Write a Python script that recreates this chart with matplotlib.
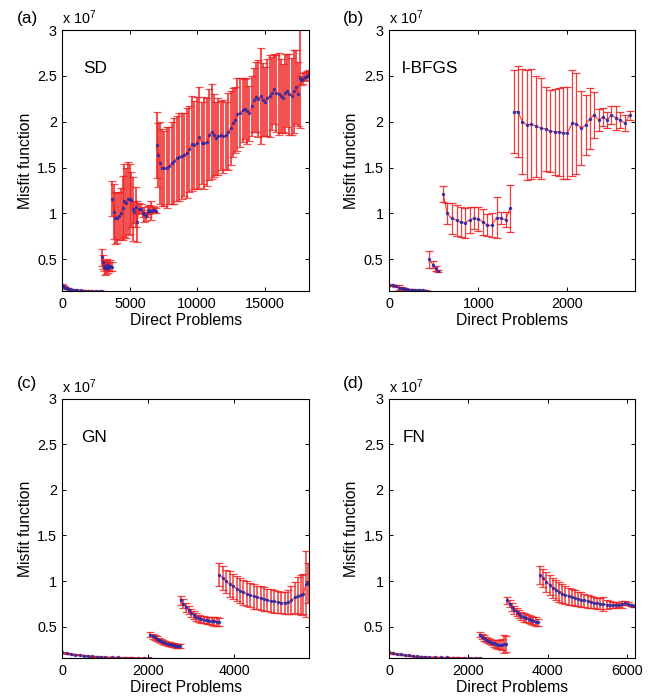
import matplotlib
matplotlib.use('Agg')
import matplotlib.pyplot as plt

plt.rcParams['font.family'] = ['Liberation Sans', 'DejaVu Sans']
plt.rcParams['mathtext.fontset'] = 'custom'
plt.rcParams['mathtext.rm'] = 'Liberation Sans'
plt.rcParams['mathtext.it'] = 'Liberation Sans'

# ---------------- data (misfit in units of 1e7) ----------------
# (a) SD
sd_x = [
    [0, 60, 120, 200, 300, 420, 560, 720, 900, 1100, 1350, 1600, 1900, 2200, 2500, 2800, 2900],
    [2920, 3000, 3080, 3160, 3240, 3320, 3400, 3480, 3560, 3640],
    [3700, 3830, 3930, 4070, 4220, 4320, 4470, 4590, 4720, 4870, 5010, 5110, 5210, 5340,
     5460, 5560, 5680, 5830, 5960, 6080, 6200, 6330, 6450, 6570, 6700, 6820, 6950],
    [7000, 7120, 7240, 7370, 7540, 7740, 7940, 8110, 8280, 8480, 8680, 8850, 9030, 9220,
     9420, 9600, 9770, 9970, 10170, 10340, 10510, 10710, 10910, 11080, 11260, 11400, 11580,
     11750, 11950, 12150, 12320, 12490, 12640, 12820, 12990, 13190, 13390, 13560, 13730,
     13880, 14050, 14230, 14380, 14550, 14720, 14870, 15040, 15220, 15370, 15540, 15710,
     15860, 16040, 16210, 16360, 16530, 16700, 16850, 17030, 17200, 17350, 17450],
    [17600, 17700, 17850, 18000, 18150, 18280],
]
sd_mean = [
    [0.215, 0.205, 0.197, 0.19, 0.183, 0.177, 0.172, 0.168, 0.165, 0.162, 0.160, 0.159,
     0.158, 0.157, 0.157, 0.156, 0.156],
    [0.52, 0.47, 0.43, 0.40, 0.41, 0.44, 0.41, 0.42, 0.43, 0.42],
    [1.16, 1.02, 0.95, 0.95, 0.97, 1.00, 1.06, 1.14, 1.11, 1.16, 1.16, 1.15, 1.05, 1.02,
     1.07, 0.91, 1.05, 1.05, 1.00, 0.99, 0.97, 1.02, 1.04, 1.03, 1.04, 1.04, 1.03],
    [1.75, 1.64, 1.55, 1.50, 1.49, 1.50, 1.52, 1.55, 1.57, 1.60, 1.62, 1.63, 1.64, 1.66,
     1.70, 1.76, 1.75, 1.77, 1.83, 1.77, 1.77, 1.78, 1.86, 1.89, 1.85, 1.82, 1.84, 1.85,
     1.84, 1.85, 1.89, 1.93, 1.99, 2.02, 2.08, 2.10, 2.13, 2.14, 2.12, 2.09, 2.17, 2.24,
     2.27, 2.25, 2.28, 2.24, 2.22, 2.26, 2.28, 2.31, 2.36, 2.31, 2.30, 2.28, 2.26, 2.31,
     2.34, 2.30, 2.28, 2.33, 2.38, 2.30],
    [2.48, 2.45, 2.47, 2.49, 2.50, 2.52],
]
sd_err = [
    [0.012, 0.01, 0.008, 0.007, 0.006, 0.005, 0.004, 0.003, 0.003, 0.002, 0.002, 0.002,
     0.002, 0.002, 0.002, 0.002, 0.002],
    [0.09, 0.08, 0.06, 0.07, 0.07, 0.06, 0.06, 0.05, 0.06, 0.05],
    [0.19, 0.30, 0.28, 0.27, 0.26, 0.28, 0.35, 0.40, 0.38, 0.40, 0.38, 0.30, 0.35, 0.12,
     0.22, 0.22, 0.06, 0.05, 0.04, 0.08, 0.05, 0.06, 0.05, 0.10, 0.04, 0.03, 0.03],
    [0.36, 0.35, 0.45, 0.42, 0.41, 0.44, 0.42, 0.45, 0.47, 0.46, 0.48, 0.47, 0.45, 0.49,
     0.47, 0.52, 0.48, 0.50, 0.55, 0.45, 0.50, 0.48, 0.50, 0.52, 0.45, 0.40, 0.42, 0.38,
     0.40, 0.37, 0.42, 0.40, 0.38, 0.36, 0.40, 0.38, 0.35, 0.33, 0.36, 0.30, 0.33, 0.35,
     0.38, 0.42, 0.52, 0.40, 0.38, 0.42, 0.45, 0.40, 0.38, 0.42, 0.45, 0.40, 0.37, 0.43,
     0.40, 0.44, 0.42, 0.45, 0.40, 0.35],
    [0.55, 0.05, 0.06, 0.05, 0.05, 0.04],
]

# (b) l-BFGS
lb_x = [
    [0, 40, 80, 110, 140, 170, 200, 230, 260, 290, 320, 350, 380, 410],
    [450, 490, 520, 550],
    [607, 652, 700, 756, 805, 850, 906, 951, 1000, 1049, 1101, 1150, 1206, 1255, 1307, 1356],
    [1401, 1446, 1495, 1547, 1596, 1652, 1708, 1757, 1809, 1858, 1906, 1951, 1996, 2056,
     2101, 2157, 2206, 2251, 2300, 2356, 2401, 2446, 2495, 2543, 2588, 2644, 2700],
]
lb_mean = [
    [0.22, 0.215, 0.205, 0.19, 0.183, 0.178, 0.173, 0.17, 0.167, 0.165, 0.163, 0.161, 0.16, 0.159],
    [0.50, 0.44, 0.40, 0.37],
    [1.21, 1.00, 0.945, 0.925, 0.905, 0.895, 0.93, 0.945, 0.94, 0.91, 0.87, 0.87, 0.955,
     0.95, 0.93, 1.055],
    [2.11, 2.11, 2.00, 1.965, 1.975, 1.95, 1.93, 1.92, 1.90, 1.89, 1.89, 1.88, 1.875, 1.985,
     1.98, 1.93, 1.965, 2.035, 2.07, 2.02, 2.05, 2.02, 2.07, 2.045, 2.02, 1.985, 2.07],
]
lb_err = [
    [0.008, 0.007, 0.012, 0.025, 0.01, 0.008, 0.007, 0.006, 0.005, 0.004, 0.004, 0.003, 0.003, 0.003],
    [0.09, 0.04, 0.03, 0.01],
    [0.09, 0.11, 0.165, 0.17, 0.16, 0.16, 0.14, 0.12, 0.13, 0.14, 0.12, 0.13, 0.22, 0.07,
     0.08, 0.26],
    [0.45, 0.50, 0.57, 0.60, 0.60, 0.55, 0.55, 0.46, 0.45, 0.47, 0.48, 0.50, 0.50, 0.58,
     0.55, 0.40, 0.33, 0.33, 0.25, 0.12, 0.10, 0.09, 0.10, 0.13, 0.09, 0.09, 0.05],
]

# (c) GN
gn_x = [
    [0, 100, 200, 300, 400, 500, 600, 700, 800, 900, 1000, 1150, 1300, 1450, 1600, 1750, 1900, 2050],
    [2050, 2100, 2150, 2200, 2250, 2300, 2350, 2400, 2450, 2500, 2550, 2600, 2650, 2700, 2740],
    [2760, 2820, 2880, 2940, 3000, 3060, 3120, 3180, 3240, 3300, 3360, 3420, 3480, 3540, 3600, 3650],
    [3660, 3740, 3820, 3900, 3980, 4060, 4140, 4220, 4300, 4380, 4460, 4540, 4620, 4700,
     4780, 4860, 4940, 5020, 5100, 5180, 5260, 5340, 5420, 5500, 5560, 5620, 5680, 5720],
]
gn_mean = [
    [0.215, 0.207, 0.199, 0.192, 0.186, 0.181, 0.176, 0.172, 0.169, 0.166, 0.164, 0.162,
     0.16, 0.159, 0.158, 0.157, 0.157, 0.156],
    [0.41, 0.395, 0.38, 0.365, 0.352, 0.34, 0.33, 0.32, 0.312, 0.305, 0.30, 0.295, 0.29, 0.288, 0.285],
    [0.79, 0.75, 0.71, 0.68, 0.65, 0.625, 0.605, 0.59, 0.58, 0.575, 0.57, 0.565, 0.56, 0.558, 0.555, 0.55],
    [1.07, 1.03, 0.995, 0.965, 0.94, 0.915, 0.893, 0.875, 0.86, 0.845, 0.832, 0.82, 0.81,
     0.80, 0.79, 0.782, 0.775, 0.768, 0.763, 0.762, 0.77, 0.79, 0.82, 0.84, 0.85, 0.86, 0.97, 0.975],
]
gn_err = [
    [0.004, 0.004, 0.003, 0.003, 0.003, 0.003, 0.003, 0.003, 0.002, 0.002, 0.002, 0.002,
     0.002, 0.002, 0.002, 0.002, 0.002, 0.002],
    [0.03, 0.028, 0.027, 0.026, 0.025, 0.025, 0.024, 0.024, 0.023, 0.023, 0.023, 0.022, 0.022, 0.022, 0.02],
    [0.05, 0.05, 0.05, 0.045, 0.045, 0.045, 0.045, 0.04, 0.04, 0.04, 0.04, 0.04, 0.045, 0.05, 0.045, 0.04],
    [0.13, 0.13, 0.13, 0.14, 0.14, 0.14, 0.14, 0.14, 0.14, 0.135, 0.135, 0.13, 0.13, 0.13,
     0.125, 0.125, 0.125, 0.12, 0.12, 0.12, 0.13, 0.15, 0.17, 0.20, 0.22, 0.22, 0.36, 0.22],
]

# (d) FN
fn_x = [
    [0, 100, 200, 300, 400, 500, 600, 700, 800, 900, 1000, 1150, 1300, 1450, 1600, 1750,
     1900, 2050, 2200, 2290],
    [2300, 2350, 2400, 2450, 2500, 2550, 2600, 2650, 2700, 2750, 2800, 2850, 2900, 2940],
    [2980, 3040, 3100, 3160, 3220, 3280, 3340, 3400, 3460, 3520, 3580, 3640, 3700, 3760],
    [3810, 3890, 3970, 4050, 4130, 4210, 4290, 4370, 4450, 4530, 4610, 4690, 4770, 4850,
     4930, 5010, 5090, 5170, 5250, 5330, 5410, 5490, 5570, 5650, 5730, 5810, 5890, 5960,
     6030, 6100, 6170],
]
fn_mean = [
    [0.215, 0.207, 0.2, 0.193, 0.187, 0.182, 0.177, 0.173, 0.17, 0.167, 0.165, 0.163, 0.161,
     0.16, 0.159, 0.158, 0.157, 0.157, 0.156, 0.156],
    [0.41, 0.39, 0.372, 0.357, 0.344, 0.333, 0.323, 0.315, 0.308, 0.302, 0.298, 0.30, 0.305, 0.31],
    [0.786, 0.75, 0.715, 0.685, 0.66, 0.635, 0.615, 0.60, 0.59, 0.58, 0.572, 0.565, 0.555, 0.548],
    [1.068, 1.03, 0.99, 0.955, 0.925, 0.90, 0.88, 0.862, 0.846, 0.833, 0.822, 0.812, 0.803,
     0.795, 0.786, 0.778, 0.77, 0.763, 0.755, 0.748, 0.745, 0.74, 0.738, 0.736, 0.735,
     0.735, 0.745, 0.76, 0.75, 0.735, 0.72],
]
fn_err = [
    [0.004, 0.004, 0.003, 0.003, 0.003, 0.003, 0.003, 0.003, 0.002, 0.002, 0.002, 0.002,
     0.002, 0.002, 0.002, 0.002, 0.002, 0.002, 0.002, 0.002],
    [0.03, 0.03, 0.03, 0.03, 0.03, 0.03, 0.03, 0.035, 0.04, 0.045, 0.05, 0.06, 0.10, 0.09],
    [0.04, 0.04, 0.045, 0.045, 0.045, 0.045, 0.045, 0.045, 0.045, 0.045, 0.045, 0.045, 0.045, 0.04],
    [0.10, 0.10, 0.11, 0.11, 0.11, 0.11, 0.11, 0.10, 0.10, 0.095, 0.09, 0.085, 0.08, 0.08,
     0.075, 0.07, 0.07, 0.065, 0.06, 0.06, 0.08, 0.05, 0.04, 0.035, 0.03, 0.025, 0.04,
     0.02, 0.015, 0.01, 0.01],
]

panel_letters = ['(a)', '(b)', '(c)', '(d)']
method_names = ['SD', 'l-BFGS', 'GN', 'FN']
x_limits = [18300, 2760, 5750, 6210]
x_ticks = [[0, 5000, 10000, 15000], [0, 1000, 2000], [0, 2000, 4000], [0, 2000, 4000, 6000]]
y_ticks = [0.5, 1, 1.5, 2, 2.5, 3]
y_tick_labels = ['0.5', '1', '1.5', '2', '2.5', '3']

data = [(sd_x, sd_mean, sd_err), (lb_x, lb_mean, lb_err),
        (gn_x, gn_mean, gn_err), (fn_x, fn_mean, fn_err)]

# ---------------- layout / style ----------------
RED = '#ee1c1c'
BLUE = '#2a2aa8'
positions = [[0.0954, 0.5831, 0.3763, 0.3739],
             [0.5942, 0.5831, 0.3753, 0.3739],
             [0.0954, 0.0573, 0.3763, 0.3711],
             [0.5942, 0.0573, 0.3753, 0.3711]]
letter_pos = [(0.026, 0.973), (0.524, 0.973), (0.026, 0.450), (0.524, 0.450)]
name_x = [0.082, 0.051, 0.075, 0.055]
bar_widths = [1.5, 0.9, 1.2, 1.2]
bar_alpha = [0.75, 0.85, 0.8, 0.8]

fig = plt.figure(figsize=(6.55, 6.98), dpi=100)

for i in range(4):
    ax = fig.add_axes(positions[i])
    xs_all, ms_all, es_all = data[i]
    for xs, ms, es in zip(xs_all, ms_all, es_all):
        ax.errorbar(xs, ms, yerr=es, fmt='-', color=RED, lw=0.8,
                    ecolor=RED, elinewidth=bar_widths[i], capsize=3.2, capthick=0.9,
                    marker='.', ms=3.0, mfc=BLUE, mec=BLUE, alpha=bar_alpha[i])
    ax.set_xlim(0, x_limits[i])
    ax.set_ylim(0.154, 3.0)
    ax.set_xticks(x_ticks[i])
    ax.set_xticklabels([str(t) for t in x_ticks[i]])
    ax.set_yticks(y_ticks)
    ax.set_yticklabels(y_tick_labels)
    ax.tick_params(direction='in', top=True, right=True, length=3, width=0.7,
                   labelsize=10.4, pad=4)
    for sp in ax.spines.values():
        sp.set_linewidth(0.8)
    ax.set_xlabel('Direct Problems', fontsize=11.3, labelpad=2)
    ax.set_ylabel('Misfit function', fontsize=11.3, labelpad=3)
    ax.text(name_x[i], 0.853, method_names[i], transform=ax.transAxes,
            fontsize=12.4, va='center', ha='left')
    ax.text(0.0, 1.012, r'x 10$^{\mathregular{7}}$', transform=ax.transAxes,
            fontsize=10.4, va='bottom', ha='left')
    fig.text(letter_pos[i][0], letter_pos[i][1], panel_letters[i], fontsize=12.4,
             va='center', ha='left')

fig.savefig('out.png', dpi=100)
